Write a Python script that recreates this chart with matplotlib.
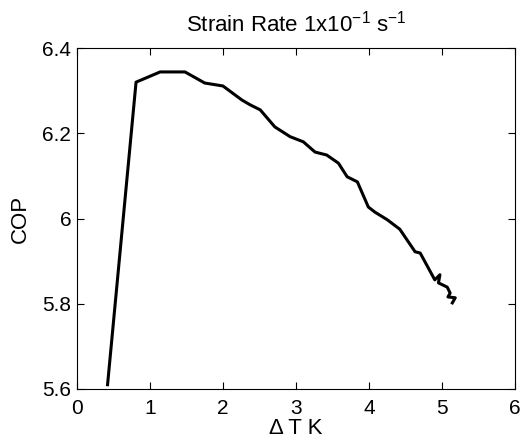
import matplotlib
matplotlib.use("Agg")
import matplotlib.pyplot as plt

dT = [0.42, 0.81, 1.14, 1.48, 1.75, 2.0, 2.26, 2.37, 2.51, 2.71, 2.92, 3.10, 3.26, 3.42,
      3.58, 3.70, 3.84, 3.99, 4.08, 4.25, 4.42, 4.63, 4.70, 4.90, 4.97, 4.95, 5.07,
      5.11, 5.08, 5.18, 5.14]
cop = [5.61, 6.32, 6.344, 6.344, 6.318, 6.311, 6.278, 6.267, 6.255, 6.215, 6.192, 6.18,
       6.156, 6.149, 6.130, 6.098, 6.086, 6.027, 6.015, 5.997, 5.975, 5.922, 5.919,
       5.856, 5.868, 5.849, 5.839, 5.825, 5.816, 5.814, 5.802]
xticks = [0, 1, 2, 3, 4, 5, 6]
yticks = [5.6, 5.8, 6.0, 6.2, 6.4]
yticklabels = ["5.6", "5.8", "6", "6.2", "6.4"]

plt.rcParams['font.family'] = ['Liberation Sans', 'DejaVu Sans']
plt.rcParams['mathtext.fontset'] = 'custom'
plt.rcParams['mathtext.rm'] = 'Liberation Sans'
plt.rcParams['mathtext.it'] = 'Liberation Sans'

fig = plt.figure(figsize=(5.23, 4.41), dpi=100)
ax = fig.add_axes([0.147, 0.118, 0.838, 0.773])
ax.plot(dT, cop, color='black', linewidth=2.2)
ax.set_xlim(0, 6)
ax.set_ylim(5.6, 6.4)
ax.set_xticks(xticks)
ax.set_yticks(yticks)
ax.set_yticklabels(yticklabels)
ax.tick_params(axis='both', direction='in', top=True, right=True, labelsize=15, length=5, width=0.8)
ax.tick_params(axis='x', pad=7)
ax.tick_params(axis='y', pad=4)
for s in ax.spines.values():
    s.set_linewidth(0.8)
ax.set_xlabel('Δ T K', fontsize=16, labelpad=0)
ax.set_ylabel('COP', fontsize=16, labelpad=8)
ax.set_title('Strain Rate 1x10$^{\\mathrm{-1}}$ s$^{\\mathrm{-1}}$', fontsize=16, pad=12)
fig.savefig('out.png', dpi=100)
